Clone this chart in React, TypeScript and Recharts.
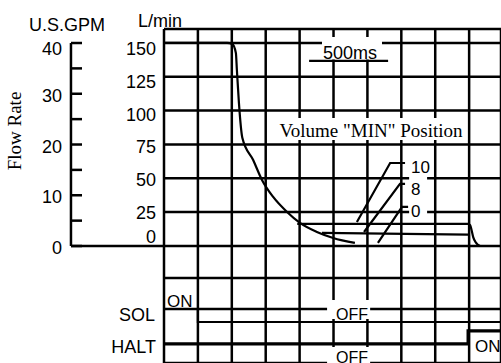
import React from 'react';
import {
  ComposedChart,
  Line,
  XAxis,
  YAxis,
  CartesianGrid,
  ReferenceLine,
  ReferenceArea,
} from 'recharts';

// time axis in grid divisions
const timeTicks = [0, 1, 2, 3, 4, 5, 6, 7, 8, 9];
// L/min scale
const flowTicks = [150, 125, 100, 75, 50, 25, 0];
// extra grid rows in the signal area (below 0)
const signalRows = [-23.6, -46.6];
// U.S.GPM scale
const gpmTicks = [0, 5, 10, 15, 20, 25, 30, 35, 40];

// flow decay curve (volume "MIN" position 0)
const minCurve = [
  { t: 0, f: 150 },
  { t: 1.86, f: 150 },
  { t: 2.01, f: 149.3 },
  { t: 2.12, f: 142.6 },
  { t: 2.15, f: 130 },
  { t: 2.21, f: 105.7 },
  { t: 2.31, f: 80 },
  { t: 2.63, f: 63.5 },
  { t: 2.89, f: 48.8 },
  { t: 3.22, f: 36.2 },
  { t: 3.63, f: 25.1 },
  { t: 4.01, f: 17 },
  { t: 4.51, f: 10.3 },
  { t: 4.99, f: 5.9 },
  { t: 5.63, f: 2.2 },
];
// volume position 10 hold level
const vol10Line = [
  { t: 3.93, f: 16.3 },
  { t: 8.97, f: 16.3 },
  { t: 9.03, f: 15.3 },
  { t: 9.07, f: 12 },
  { t: 9.12, f: 6.5 },
  { t: 9.2, f: 2.5 },
  { t: 9.32, f: 0 },
];
// volume position 8 hold level
const vol8Line = [
  { t: 4.66, f: 9.6 },
  { t: 8.97, f: 8.3 },
];
// leader lines to the position labels
const lead10 = [
  { t: 5.69, f: 17.7 },
  { t: 6.67, f: 61.3 },
  { t: 7.11, f: 61.3 },
];
const lead8 = [
  { t: 5.9, f: 10.3 },
  { t: 6.96, f: 45.8 },
  { t: 7.11, f: 45.8 },
];
const lead0 = [
  { t: 6.31, f: 2.2 },
  { t: 7.02, f: 28.8 },
  { t: 7.2, f: 28.8 },
];
// SOL signal: ON then OFF
const solSignal = [
  { t: 0, f: -46.6 },
  { t: 1, f: -46.6 },
  { t: 1, f: -56.2 },
  { t: 9.94, f: -56.2 },
];
// HALT signal: OFF then ON
const haltSignal = [
  { t: 0, f: -72.4 },
  { t: 8.97, f: -72.4 },
  { t: 8.97, f: -62.8 },
  { t: 9.94, f: -62.8 },
];

const SANS = '"Liberation Sans", Arial, Helvetica, sans-serif';
const SERIF = '"Liberation Serif", "Times New Roman", serif';

const LpmTick = (props: any) => {
  const { x, y, payload } = props;
  const v = payload.value;
  if (v < 0) return <g />;
  const dy = v === 0 ? -3 : 6 + (v / 150) * 6;
  return (
    <text x={x} y={y + dy} textAnchor="end" fontFamily={SANS} fontSize={18} fill="#000">
      {v}
    </text>
  );
};

const GpmTick = (props: any) => {
  const { x, y, payload } = props;
  const v = payload.value;
  return (
    <g>
      <line x1={x} y1={y} x2={x + 11} y2={y} stroke="#000" strokeWidth={2.5} />
      {v % 10 === 0 ? (
        <text x={x - 9} y={y + (v === 40 ? 12 : 8)} textAnchor="end" fontFamily={SANS} fontSize={18} fill="#000">
          {v}
        </text>
      ) : null}
    </g>
  );
};

const lineProps = {
  dataKey: 'f',
  stroke: '#000',
  strokeWidth: 2.2,
  dot: false,
  activeDot: false,
  isAnimationActive: false,
  legendType: 'none' as const,
};

export default function App() {
  return (
    <div style={{ position: 'absolute', left: 0, top: 0, width: 501, height: 363, background: '#fff' }}>
      <ComposedChart width={501} height={363} margin={{ top: 29, right: 0, bottom: 0, left: 0 }}>
        <XAxis
          dataKey="t"
          type="number"
          domain={[0, 9.94]}
          ticks={timeTicks}
          allowDataOverflow
          hide
        />
        <YAxis
          yAxisId={0}
          type="number"
          width={93}
          domain={[-86.5, 160.3]}
          ticks={[...flowTicks, ...signalRows]}
          allowDataOverflow
          axisLine={false}
          tickLine={false}
          tickSize={0}
          tickMargin={8}
          interval={0}
          tick={<LpmTick />}
        />
        <YAxis
          yAxisId="gpm"
          type="number"
          width={71}
          domain={[-23.05, 42.76]}
          ticks={gpmTicks}
          allowDataOverflow
          axisLine={false}
          tickLine={false}
          tickSize={0}
          tickMargin={0}
          interval={0}
          tick={<GpmTick />}
        />
        <CartesianGrid stroke="#000" strokeWidth={2.5} strokeOpacity={1} />
        <ReferenceArea x1={4.66} x2={6.43} y1={137.8} y2={154.4} fill="#fff" fillOpacity={1} stroke="none" />
        <ReferenceArea x1={3.27} x2={8.94} y1={78.3} y2={94.6} fill="#fff" fillOpacity={1} stroke="none" />
        <ReferenceArea x1={7.23} x2={7.76} y1={22.2} y2={65.8} fill="#fff" fillOpacity={1} stroke="none" />
        <ReferenceArea x1={4.81} x2={6.08} y1={-53.9} y2={-39.9} fill="#fff" fillOpacity={1} stroke="none" />
        <ReferenceArea x1={4.81} x2={6.08} y1={-86.5} y2={-74.6} fill="#fff" fillOpacity={1} stroke="none" />
        <ReferenceLine
          yAxisId="gpm"
          segment={[{ x: -2.744, y: 0 }, { x: -2.744, y: 40 }]}
          stroke="#000"
          strokeWidth={2.5}
          ifOverflow="visible"
        />
        <ReferenceLine
          yAxisId="gpm"
          segment={[{ x: -2.744, y: 0 }, { x: 0, y: 0 }]}
          stroke="#000"
          strokeWidth={2.5}
          ifOverflow="visible"
        />
        <ReferenceLine
          segment={[{ x: 4.28, y: 136.7 }, { x: 6.61, y: 136.7 }]}
          stroke="#000"
          strokeWidth={2.2}
          ifOverflow="visible"
        />
        <Line {...lineProps} data={minCurve} type="monotone" />
        <Line {...lineProps} data={vol10Line} type="monotone" />
        <Line {...lineProps} data={vol8Line} type="linear" />
        <Line {...lineProps} data={lead10} type="linear" />
        <Line {...lineProps} data={lead8} type="linear" />
        <Line {...lineProps} data={lead0} type="linear" />
        <Line {...lineProps} data={solSignal} type="linear" />
        <Line {...lineProps} data={haltSignal} type="linear" strokeWidth={3.2} />
      </ComposedChart>
      <svg
        width={501}
        height={363}
        style={{ position: 'absolute', left: 0, top: 0, pointerEvents: 'none' }}
      >
        <g fontFamily={SANS} fill="#000">
          <text x={29} y={31} fontSize={18}>U.S.GPM</text>
          <text x={138} y={27} fontSize={18}>L/min</text>
          <text x={350} y={59} fontSize={18} textAnchor="middle">500ms</text>
          <text x={411} y={173} fontSize={17}>10</text>
          <text x={411} y={195} fontSize={17}>8</text>
          <text x={411} y={216.5} fontSize={17}>0</text>
          <text x={167} y={307} fontSize={17}>ON</text>
          <text x={155} y={321} fontSize={18} textAnchor="end">SOL</text>
          <text x={156} y={353} fontSize={18} textAnchor="end">HALT</text>
          <text x={352} y={320} fontSize={16} textAnchor="middle">OFF</text>
          <text x={352} y={363} fontSize={16} textAnchor="middle">OFF</text>
          <text x={475} y={352} fontSize={17}>ON</text>
        </g>
        <g fontFamily={SERIF} fill="#000">
          <text x={371} y={137} fontSize={19} textAnchor="middle">Volume "MIN" Position</text>
          <text x={21} y={131} fontSize={19} textAnchor="middle" transform="rotate(-90 21 131)">Flow Rate</text>
        </g>
      </svg>
    </div>
  );
}
